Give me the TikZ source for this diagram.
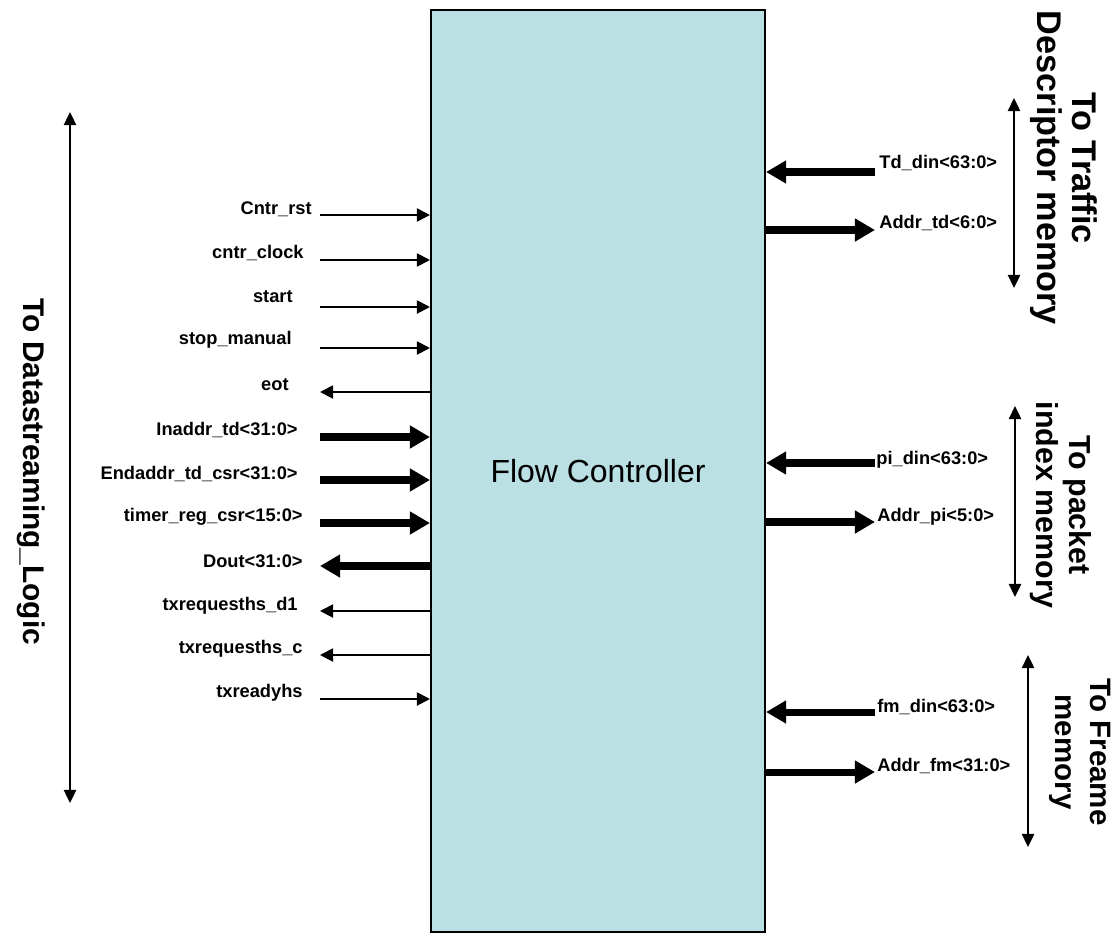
\documentclass[tikz,border=0pt]{standalone}
\usepackage{fontspec}
\setmainfont{Liberation Sans}
\usetikzlibrary{positioning,arrows.meta}
\definecolor{fcfill}{HTML}{BAE0E3}

\begin{document}
\begin{tikzpicture}[
    x=0.02cm, y=-0.02cm,
    block/.style={
        draw=black,
        line width=1.2pt,
        fill=fcfill,
        minimum width=6.68cm,
        minimum height=18.44cm,
        inner sep=0pt,
        font=\fontsize{18.2}{22}\selectfont
    },
    sig/.style={line width=1.1pt, -{Triangle[length=7.5pt,width=7.5pt]}},
    bus/.style={line width=4pt, -{Triangle[length=11.5pt,width=12.5pt]}},
    span/.style={line width=1.1pt, {Triangle[length=7.5pt,width=7pt]}-{Triangle[length=7.5pt,width=7pt]}},
    lbl/.style={font=\fontsize{10.4}{12}\selectfont\bfseries, inner sep=0pt},
    side/.style={rotate=-90, align=center, inner sep=0pt}
]
\useasboundingbox (0,0) rectangle (1114,933);

% --- Flow controller block ---
\node[block] (fc) at (598,471) {Flow Controller};

% --- Left side signal ends ---
\coordinate (cntrrst)  at (320,215);
\coordinate (cntrclk)  at (320,260);
\coordinate (start)    at (320,307);
\coordinate (stopman)  at (320,348);
\coordinate (eot)      at (320,392);
\coordinate (inaddr)   at (320,437);
\coordinate (endaddr)  at (320,480);
\coordinate (timerreg) at (320,523);
\coordinate (dout)     at (320,566);
\coordinate (txreqd)   at (320,611);
\coordinate (txreqc)   at (320,655);
\coordinate (txready)  at (320,699);

% --- Left side labels ---
\node[lbl, anchor=base east] (lcntrrst)  at (312,214) {Cntr\_rst};
\node[lbl, anchor=base east] (lcntrclk)  at (304,258) {cntr\_clock};
\node[lbl, anchor=base east] (lstart)    at (293,302) {start};
\node[lbl, anchor=base east] (lstopman)  at (292,344) {stop\_manual};
\node[lbl, anchor=base east] (leot)      at (289,390) {eot};
\node[lbl, anchor=base east] (linaddr)   at (298,435) {Inaddr\_td<31:0>};
\node[lbl, anchor=base east] (lendaddr)  at (298,479) {Endaddr\_td\_csr<31:0>};
\node[lbl, anchor=base east] (ltimerreg) at (303,521) {timer\_reg\_csr<15:0>};
\node[lbl, anchor=base east] (ldout)     at (303,567) {Dout<31:0>};
\node[lbl, anchor=base east] (ltxreqd)   at (298,610) {txrequesths\_d1};
\node[lbl, anchor=base east] (ltxreqc)   at (303,653) {txrequesths\_c};
\node[lbl, anchor=base east] (ltxready)  at (303,697) {txreadyhs};

% --- Left side connectors ---
\draw[sig] (cntrrst) -- (cntrrst -| fc.west);
\draw[sig] (cntrclk) -- (cntrclk -| fc.west);
\draw[sig] (start) -- (start -| fc.west);
\draw[sig] (stopman) -- (stopman -| fc.west);
\draw[sig] (eot -| fc.west) -- (eot);
\draw[bus] (inaddr) -- (inaddr -| fc.west);
\draw[bus] (endaddr) -- (endaddr -| fc.west);
\draw[bus] (timerreg) -- (timerreg -| fc.west);
\draw[bus] (dout -| fc.west) -- (dout);
\draw[sig] (txreqd -| fc.west) -- (txreqd);
\draw[sig] (txreqc -| fc.west) -- (txreqc);
\draw[sig] (txready) -- (txready -| fc.west);

% --- Right side memory buses ---
\coordinate (tddin)  at (875,172);
\coordinate (addrtd) at (875,230);
\coordinate (pidin)  at (875,463);
\coordinate (addrpi) at (875,522);
\coordinate (fmdin)  at (875,712);
\coordinate (addrfm) at (875,772);

\node[lbl, anchor=base west] (ltddin)  at (879,168) {Td\_din<63:0>};
\node[lbl, anchor=base west] (laddrtd) at (879,228) {Addr\_td<6:0>};
\node[lbl, anchor=base west] (lpidin)  at (876,464) {pi\_din<63:0>};
\node[lbl, anchor=base west] (laddrpi) at (877,521) {Addr\_pi<5:0>};
\node[lbl, anchor=base west] (lfmdin)  at (877,712) {fm\_din<63:0>};
\node[lbl, anchor=base west] (laddrfm) at (877,771) {Addr\_fm<31:0>};

\draw[bus] (tddin) -- (tddin -| fc.east);
\draw[bus] (addrtd -| fc.east) -- (addrtd);
\draw[bus] (pidin) -- (pidin -| fc.east);
\draw[bus] (addrpi -| fc.east) -- (addrpi);
\draw[bus] (fmdin) -- (fmdin -| fc.east);
\draw[bus] (addrfm -| fc.east) -- (addrfm);

% --- Destination spans ---
\coordinate (dslTop) at (70,112);
\coordinate (dslBot) at (70,803);
\coordinate (tdTop)  at (1014,98);
\coordinate (tdBot)  at (1014,288);
\coordinate (piTop)  at (1015,406);
\coordinate (piBot)  at (1015,597);
\coordinate (fmTop)  at (1028,655);
\coordinate (fmBot)  at (1028,847);

\draw[span] (dslTop) -- (dslBot);
\draw[span] (tdTop) -- (tdBot);
\draw[span] (piTop) -- (piBot);
\draw[span] (fmTop) -- (fmBot);

\node[side, font=\fontsize{17}{19}\selectfont\bfseries]     (dsl) at (31,472)   {To Datastreaming\_Logic};
\node[side, font=\fontsize{19.5}{19.8}\selectfont\bfseries] (tdm) at (1064,168) {To Traffic\\Descriptor memory};
\node[side, font=\fontsize{17.3}{18.8}\selectfont\bfseries] (pim) at (1061,505) {To packet\\index memory};
\node[side, font=\fontsize{16.8}{19.8}\selectfont\bfseries] (fmm) at (1080,752) {To Freame\\memory};

\end{tikzpicture}
\end{document}
